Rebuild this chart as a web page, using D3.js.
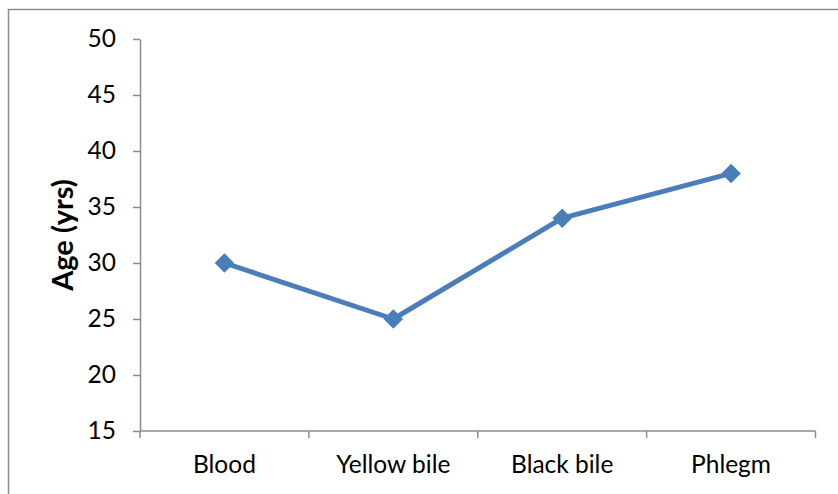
<!DOCTYPE html>
<html>
<head>
<meta charset="utf-8">
<script src="https://cdn.jsdelivr.net/npm/d3@7"></script>
<style>
  html, body { margin: 0; padding: 0; background: #fff; }
  svg { display: block; }
  text { font-family: Lato, "Open Sans", sans-serif; fill: #000; }
</style>
</head>
<body>
<svg id="chart" width="838" height="494"></svg>
<script>
// Temperament categories and average age (years)
const categories = ["Blood", "Yellow bile", "Black bile", "Phlegm"];
const ages = [30, 25, 34, 38];
const yTicks = [15, 20, 25, 30, 35, 40, 45, 50];
const yLabel = "Age (yrs)";

const svg = d3.select("#chart");
const W = 838, H = 494;
const plot = { left: 140, right: 815.5, top: 39, bottom: 431 };

// Outer frame (open at right and bottom edges of the page)
svg.append("rect")
  .attr("x", 8.5).attr("y", 9.5)
  .attr("width", W).attr("height", H)
  .attr("fill", "none").attr("stroke", "#8c8c8c").attr("stroke-width", 1.5);

const x = d3.scaleBand().domain(categories).range([plot.left, plot.right]);
const y = d3.scaleLinear().domain([15, 50]).range([plot.bottom, plot.top]);

const axisColor = "#8c8c8c";
const labelSize = "24.5px";

// Y axis
const yAxis = svg.append("g")
  .attr("transform", `translate(${plot.left},0)`)
  .call(d3.axisLeft(y).tickValues(yTicks).tickSize(7).tickPadding(17).tickSizeOuter(0));
yAxis.select(".domain").attr("stroke", axisColor).attr("stroke-width", 1.5);
yAxis.selectAll(".tick line").attr("stroke", axisColor).attr("stroke-width", 1.5);
yAxis.selectAll(".tick text")
  .style("font-size", labelSize).style("font-family", "Lato, 'Open Sans', sans-serif")
  .attr("fill", "#000");

// X axis: ticks sit at category boundaries
const xAxis = svg.append("g")
  .attr("transform", `translate(0,${plot.bottom})`);
xAxis.append("line")
  .attr("x1", plot.left).attr("x2", plot.right)
  .attr("stroke", axisColor).attr("stroke-width", 1.5);
const bounds = categories.map(c => x(c)).concat([x(categories[categories.length - 1]) + x.bandwidth()]);
xAxis.selectAll("line.tk").data(bounds).join("line")
  .attr("class", "tk")
  .attr("x1", d => d).attr("x2", d => d)
  .attr("y1", 0).attr("y2", 7)
  .attr("stroke", axisColor).attr("stroke-width", 1.5);
xAxis.selectAll("text").data(categories).join("text")
  .attr("x", d => x(d) + x.bandwidth() / 2)
  .attr("y", 42)
  .attr("text-anchor", "middle")
  .style("font-size", labelSize)
  .text(d => d);

// Y axis title
svg.append("text")
  .attr("transform", `translate(73,235) rotate(-90)`)
  .attr("text-anchor", "middle")
  .style("font-size", "29px").style("font-weight", "bold")
  .text(yLabel);

// Series line
const color = "#4a7ebb";
const pts = categories.map((c, i) => [x(c) + x.bandwidth() / 2, y(ages[i])]);
svg.append("path")
  .datum(pts)
  .attr("d", d3.line())
  .attr("fill", "none")
  .attr("stroke", color)
  .attr("stroke-width", 5)
  .attr("stroke-linejoin", "round");

// Diamond markers
const diamond = d3.symbol().type(d3.symbolSquare).size(190);
svg.selectAll("path.mk").data(pts).join("path")
  .attr("class", "mk")
  .attr("d", diamond())
  .attr("transform", d => `translate(${d[0]},${d[1]}) rotate(45)`)
  .attr("fill", color);
</script>
</body>
</html>
